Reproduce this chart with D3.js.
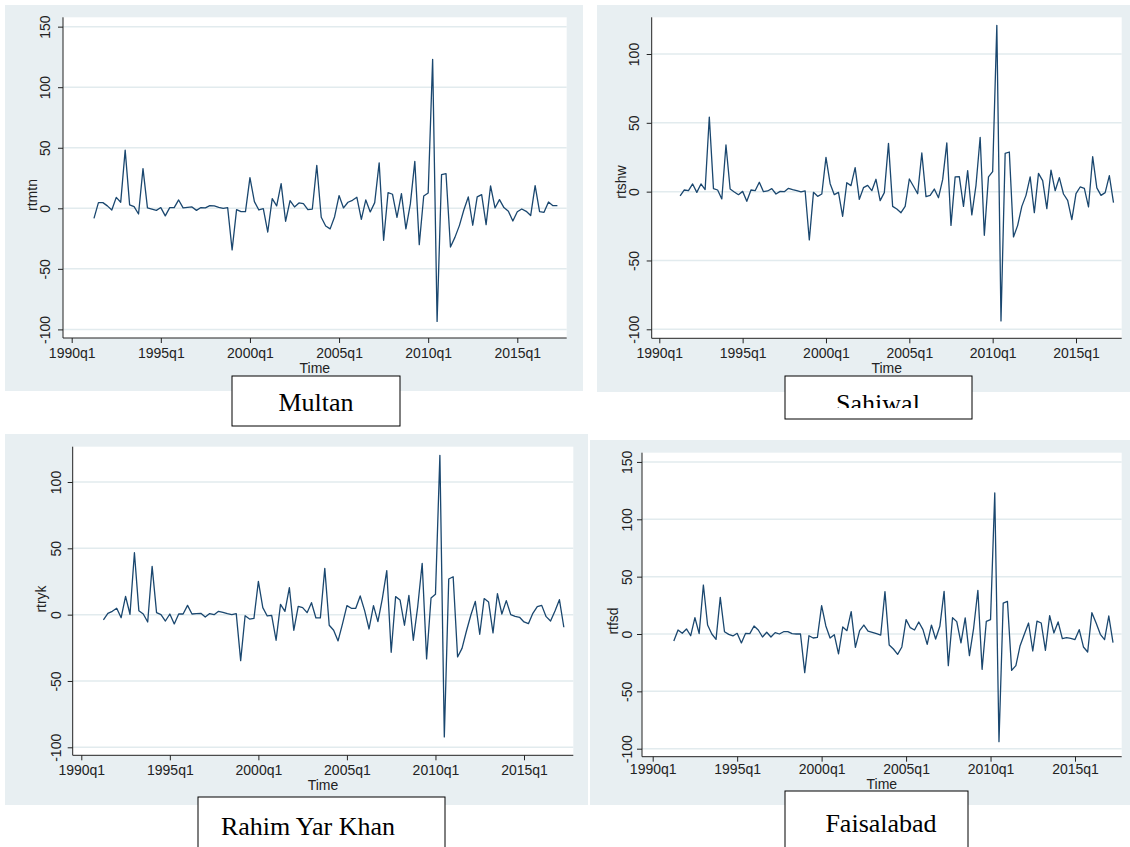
<!DOCTYPE html>
<html>
<head>
<meta charset="utf-8">
<script src="https://cdn.jsdelivr.net/npm/d3@7"></script>
<style>
  body { margin: 0; background: #fff; }
  svg { display: block; font-family: "Liberation Sans", Arial, sans-serif; }
  .bg { fill: #e8eff2; }
  .plotarea { fill: #fff; }
  .grid line { stroke: #e2ebee; stroke-width: 1.5px; }
  .axis path { display: none; }
  .axis line, .axisline { stroke: #222; stroke-width: 1px; }
  .axis text { fill: #222; font-size: 14px; }
  .series { fill: none; stroke: #1a476f; stroke-width: 1.3px; stroke-linejoin: round; }
  .ytitle, .xtitle { font-size: 14px; fill: #222; }
  .namebox rect { fill: #fff; stroke: #000; stroke-width: 1px; }
  .namebox text { font-family: "Liberation Serif", "Times New Roman", serif; font-size: 26px; fill: #000; }
</style>
</head>
<body>
<svg id="chart" width="1130" height="847"></svg>
<script>
// quarters as Stata %tq numbers (0 = 1960q1): 1991q2 .. 2017q2
var quarters = d3.range(125, 230);
var xTicks = [120, 140, 160, 180, 200, 220];
var yTicksTall = [-100, -50, 0, 50, 100, 150];
var yTicksShort = [-100, -50, 0, 50, 100];

var rtmtn = [-8.3, 4.7, 4.7, 2, -1.4, 9, 5, 48, 2.8, 1.4, -4.7, 32.8, 0.3, -0.6, -1.7, 0.6,
  -6.3, 0.6, 0.6, 6.9, 0.3, 0.8, 1.1, -1.7, 0.6, 0.3, 2.2, 2, 0.8, 0, 0.6, -34.4,
  -1.1, -2.8, -2.8, 25.3, 5.5, -1.4, -0.3, -19.6, 8, 2, 20.4, -10.7, 6.3, 1.1, 4.4, 3.9,
  -1.1, -0.6, 35.5, -7.4, -14.6, -17, -6.9, 10.5, 0.3, 5, 6.6, 9.1, -9.1, 6.9, -3, 4.7,
  37.5, -26.4, 12.9, 11.6, -7.4, 12.1, -17, 3.6, 38.8, -30, 10.2, 12.7, 123, -93.4, 27.8, 28.7,
  -32, -24, -14.3, -1.4, 9.4, -14, 9.4, 11.3, -13.5, 18.5, 0.3, 7.2, 0.6, -2.5, -10.5, -2.8,
  -0.6, -2.5, -6, 18.7, -2.8, -3.3, 5.2, 2.2, 2.2];

var rtshw = [-3.1, 1.2, 0.7, 5.6, -0.5, 5.6, 1.5, 54.2, 2.2, 1.2, -5.3, 33.9, 1.9, -0.2, -2.2, 0.2,
  -7, 1.2, 0.7, 6.8, 0, 0.5, 2.2, -1.7, 0.2, 0, 2.4, 1.5, 0.7, -0.2, 0.5, -35.1,
  -0.5, -3.4, -1.7, 24.9, 5.8, -2.2, -0.5, -17.9, 6.5, 4.4, 17.4, -5.6, 2.9, 4.6, 0.7, 9,
  -6.5, -0.7, 35.1, -10.7, -12.6, -15.3, -10.7, 9.2, 3.9, -1.5, 28.1, -3.6, -2.7, 1.9, -4.4, 8.7,
  35.4, -24.5, 10.7, 10.9, -10.7, 15.3, -16.9, 4.6, 39.5, -31.7, 10.7, 14.5, 120.8, -93.9, 27.8, 28.8,
  -32.9, -24.5, -10.7, -2.7, 10.7, -15.3, 13.3, 8, -12.3, 15.7, 0.7, 10.2, -1.7, -6.3, -20.3, -1.5,
  3.4, 2.4, -11.1, 25.4, 2.7, -2.7, -0.7, 11.6, -8];

var rtryk = [-4, 1, 2.5, 4.8, -2.3, 13.8, 0.3, 46.7, 3, 0.5, -5.5, 36.4, 1.5, 0, -4.8, 0.5,
  -7, 0.5, 0.5, 7, 0.5, 0.8, 1, -1.8, 0.8, 0, 2.5, 1.8, 0.8, 0, 0.8, -34.7,
  -0.8, -3.3, -2.8, 25.1, 5.3, -1, -0.5, -19.3, 7.8, 2.5, 20.4, -11.8, 6.3, 5.3, 1.5, 9,
  -2.5, -2.5, 34.9, -8, -11.8, -19.8, -7, 6.8, 4.8, 4.8, 14.1, 3, -10.8, 6.8, -5.3, 12.1,
  33.2, -28.4, 13.6, 11.1, -8, 14.6, -19.3, 6.3, 38.7, -33.4, 12.6, 15.3, 120.1, -92.2, 26.9, 28.6,
  -31.9, -25.4, -12.3, -0.3, 10, -14.8, 12.1, 9.5, -13.8, 15.8, 0.5, 10.6, 0, -1.3, -2, -5.5,
  -6.8, 1, 6, 7, -1.5, -4.8, 2.8, 11.3, -9.5];

var rtfsd = [-6.1, 3.5, 0.6, 4.4, -1.5, 14.2, 0.3, 42.7, 7.8, 0, -4.7, 32, 2, -0.3, -1.7, 0.6,
  -7.8, 0.6, 0.3, 7, 3.5, -2.6, 1.5, -2.6, 1.2, 0, 2, 2, 0.3, 0, 0, -33.7,
  -1.5, -3.5, -2.9, 24.7, 7, -3.5, -0.6, -17.4, 6.1, 2.9, 19.5, -11.6, 2.9, 7.8, 2.6, 1.5,
  0.3, -0.9, 36.9, -9.6, -13.1, -17.7, -11.3, 12.5, 5.5, 3.5, 10.5, 3.8, -9, 7.8, -4.4, 6.7,
  37.2, -27.6, 14.2, 10.8, -7.8, 14, -18.9, 5.2, 38.1, -30.8, 11, 12.5, 123, -93.9, 27, 28.5,
  -31.7, -27.6, -10.2, -0.3, 9.6, -14.8, 11.3, 9.6, -14.2, 16, 0.9, 10.5, -4.1, -3.2, -3.8, -4.9,
  3.8, -11.3, -15.7, 18.6, 9.6, -0.3, -4.9, 15.7, -7.6];

// layout of the four pasted Stata graphs
var panels = [
  { name: "Multan", varname: "rtmtn", values: rtmtn, yTicks: yTicksTall,
    bg: [5, 5, 578, 386], plot: [63, 17.3, 566.7, 338], xAt: [71.7, 517.3], yAt: [329.4, 87.2],
    tickLabelX: 45.5, titleX: 32, titleY: 195, xLabelY: 358, timeY: 372.5,
    box: [232, 376, 168, 50], nameX: 316, nameY: 411, clipY: null },
  { name: "Sahiwal", varname: "rtshw", values: rtshw, yTicks: yTicksShort,
    bg: [597, 5, 533, 387], plot: [651.7, 17.3, 1121.7, 338.3], xAt: [659.3, 1076], yAt: [329.3, 54],
    tickLabelX: 634, titleX: 621, titleY: 182, xLabelY: 358, timeY: 372.5,
    box: [785, 376, 187, 43], nameX: 878, nameY: 412, clipY: 408 },
  { name: "Rahim Yar Khan", varname: "rtryk", values: rtryk, yTicks: yTicksShort,
    bg: [5, 434, 583, 371], plot: [72.7, 446.7, 573.3, 755.3], xAt: [81.3, 524], yAt: [747.3, 482],
    tickLabelX: 56, titleX: 41, titleY: 599, xLabelY: 775, timeY: 789.5,
    box: [198, 797, 247, 60], nameX: 308, nameY: 835, clipY: null },
  { name: "Faisalabad", varname: "rtfsd", values: rtfsd, yTicks: yTicksTall,
    bg: [590, 440, 540, 365], plot: [642, 452.7, 1121.7, 756.7], xAt: [652.7, 1075], yAt: [748.7, 519.3],
    tickLabelX: 627, titleX: 613, titleY: 621, xLabelY: 774.5, timeY: 789,
    box: [785, 791, 183, 65], nameX: 881, nameY: 832, clipY: null }
];

function fmtQ(t) {
  return (1960 + Math.floor(t / 4)) + "q" + (t % 4 + 1);
}

var svg = d3.select("#chart");

// backgrounds first so the name boxes sit on top of everything
svg.selectAll("rect.bg")
  .data(panels)
  .enter().append("rect")
  .attr("class", "bg")
  .attr("x", d => d.bg[0]).attr("y", d => d.bg[1])
  .attr("width", d => d.bg[2]).attr("height", d => d.bg[3]);

panels.forEach(function (p, k) {
  var l = p.plot[0], t = p.plot[1], r = p.plot[2], b = p.plot[3];
  var x = d3.scaleLinear().domain([120, 220]).range(p.xAt);
  var y = d3.scaleLinear().domain([-100, 100]).range(p.yAt);

  var g = svg.append("g").attr("class", "panel");

  g.append("rect").attr("class", "plotarea")
    .attr("x", l).attr("y", t).attr("width", r - l).attr("height", b - t);

  g.append("g").attr("class", "grid")
    .selectAll("line")
    .data(p.yTicks)
    .enter().append("line")
    .attr("x1", l).attr("x2", r)
    .attr("y1", d => y(d)).attr("y2", d => y(d));

  var line = d3.line()
    .x((d, i) => x(quarters[i]))
    .y(d => y(d));

  g.append("path")
    .datum(p.values)
    .attr("class", "series")
    .attr("d", line);

  // axis lines along the plot region
  g.append("line").attr("class", "axisline")
    .attr("x1", l).attr("x2", l).attr("y1", t).attr("y2", b);
  g.append("line").attr("class", "axisline")
    .attr("x1", l).attr("x2", r).attr("y1", b).attr("y2", b);

  var xa = g.append("g")
    .attr("class", "axis")
    .attr("transform", "translate(0," + b + ")")
    .call(d3.axisBottom(x).tickValues(xTicks).tickFormat(fmtQ).tickSize(5).tickSizeOuter(0));
  xa.selectAll("text").attr("y", p.xLabelY - b).attr("dy", null);

  var ya = g.append("g")
    .attr("class", "axis")
    .attr("transform", "translate(" + l + ",0)")
    .call(d3.axisLeft(y).tickValues(p.yTicks).tickFormat(d => String(d)).tickSize(5).tickSizeOuter(0));
  ya.selectAll("text")
    .attr("x", 0).attr("y", 0)
    .attr("dy", "0.35em")
    .attr("text-anchor", "middle")
    .attr("transform", "translate(" + (p.tickLabelX - l) + ",0) rotate(-90)");

  g.append("text").attr("class", "ytitle")
    .attr("transform", "translate(" + p.titleX + "," + p.titleY + ") rotate(-90)")
    .attr("dy", "0.35em")
    .attr("text-anchor", "middle")
    .text(p.varname);

  g.append("text").attr("class", "xtitle")
    .attr("x", (l + r) / 2).attr("y", p.timeY)
    .attr("text-anchor", "middle")
    .text("Time");
});

// city name boxes pasted under each graph
panels.forEach(function (p, k) {
  var nb = svg.append("g").attr("class", "namebox");
  nb.append("rect")
    .attr("x", p.box[0]).attr("y", p.box[1])
    .attr("width", p.box[2]).attr("height", p.box[3]);
  var txt = nb.append("text")
    .attr("x", p.nameX).attr("y", p.nameY)
    .attr("text-anchor", "middle")
    .text(p.name);
  if (p.clipY !== null) {
    svg.append("clipPath").attr("id", "clip" + k)
      .append("rect")
      .attr("x", p.box[0]).attr("y", p.box[1])
      .attr("width", p.box[2]).attr("height", p.clipY - p.box[1]);
    txt.attr("clip-path", "url(#clip" + k + ")");
  }
});
</script>
</body>
</html>
